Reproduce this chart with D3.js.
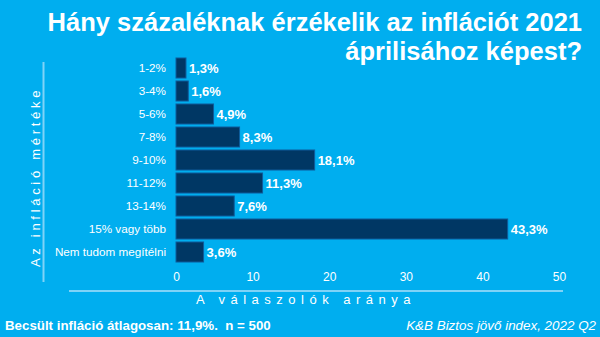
<!DOCTYPE html>
<html><head><meta charset="utf-8">
<script src="https://cdn.jsdelivr.net/npm/d3@7"></script>
<style>
html,body{margin:0;padding:0;background:#00aeef;}
svg text{font-family:"Liberation Sans",Arial,sans-serif;}
</style></head>
<body><svg id="c" width="600" height="337"></svg>
<script>
const categories = ["1-2%","3-4%","5-6%","7-8%","9-10%","11-12%","13-14%","15% vagy több","Nem tudom megítélni"];
const values = [1.3,1.6,4.9,8.3,18.1,11.3,7.6,43.3,3.6];
const valueLabels = ["1,3%","1,6%","4,9%","8,3%","18,1%","11,3%","7,6%","43,3%","3,6%"];
const xTicks = [0,10,20,30,40,50];
const titleLines = ["Hány százaléknak érzékelik az inflációt 2021","áprilisához képest?"];
const yTitle = "Az infláció mértéke";
const xTitle = "A válaszolók aránya";
const footLeft = "Becsült infláció átlagosan: 11,9%.  n = 500";
const footRight = "K&B Biztos jövő index, 2022 Q2";

const svg = d3.select("#c");
svg.append("rect").attr("width",600).attr("height",337).attr("fill","#00aeef");

const x = d3.scaleLinear().domain([0,50]).range([176,559]);
const y = d3.scaleBand().domain(categories).range([56.5,263.5]).paddingInner(0.13).paddingOuter(0.065);

// title (one text element, two lines)
const title = svg.append("text").attr("text-anchor","end").attr("fill","#fff")
  .attr("font-size",25.5).attr("font-weight","bold");
title.selectAll("tspan").data(titleLines).join("tspan")
  .attr("x",582).attr("y",(d,i)=>31+i*28.5).text(d=>d);

// bars
svg.append("g").selectAll("rect").data(values).join("rect")
  .attr("x",x(0)).attr("y",(d,i)=>y(categories[i]))
  .attr("width",d=>x(d)-x(0)).attr("height",y.bandwidth())
  .attr("fill","#003764").attr("stroke","#0d5c9c").attr("stroke-width",1);

// value labels
svg.append("g").selectAll("text").data(values).join("text")
  .attr("x",d=>x(d)+3).attr("y",(d,i)=>y(categories[i])+y.bandwidth()/2)
  .attr("dy","0.36em").attr("fill","#fff").attr("font-size",13).attr("font-weight","bold")
  .text((d,i)=>valueLabels[i]);

// y axis labels
const ya = svg.append("g").attr("transform","translate(176,0)")
  .call(d3.axisLeft(y).tickSize(0).tickPadding(10));
ya.select(".domain").remove();
ya.selectAll("text").attr("fill","#fff").attr("font-size",11.7)
  .style("font-family","'Liberation Sans',Arial,sans-serif");

// x axis
const xa = svg.append("g").attr("transform","translate(0,270)")
  .call(d3.axisBottom(x).tickValues(xTicks).tickSize(0).tickPadding(2).tickFormat(d3.format("d")));
xa.select(".domain").remove();
xa.selectAll("text").attr("fill","#fff").attr("font-size",12)
  .style("font-family","'Liberation Sans',Arial,sans-serif");

// separator lines
svg.append("line").attr("x1",69).attr("x2",563).attr("y1",291).attr("y2",291)
  .attr("stroke","#7fd3f7").attr("stroke-width",2);
svg.append("line").attr("x1",43.5).attr("x2",43.5).attr("y1",62).attr("y2",282)
  .attr("stroke","#7fd3f7").attr("stroke-width",2);

// axis titles
svg.append("text").attr("x",306).attr("y",304).attr("text-anchor","middle")
  .attr("fill","#fff").attr("font-size",13).attr("letter-spacing","5.5px").text(xTitle);
svg.append("text").attr("transform","translate(40,177) rotate(-90)").attr("text-anchor","middle")
  .attr("fill","#fff").attr("font-size",13).attr("letter-spacing","3.7px").text(yTitle);

// footer
svg.append("text").attr("x",5).attr("y",330).attr("fill","#fff").attr("font-size",13.3)
  .attr("font-weight","bold").attr("xml:space","preserve").style("white-space","pre").text(footLeft);
svg.append("text").attr("x",596).attr("y",330).attr("text-anchor","end").attr("fill","#fff")
  .attr("font-size",13.4).attr("font-style","italic").text(footRight);
</script></body></html>
